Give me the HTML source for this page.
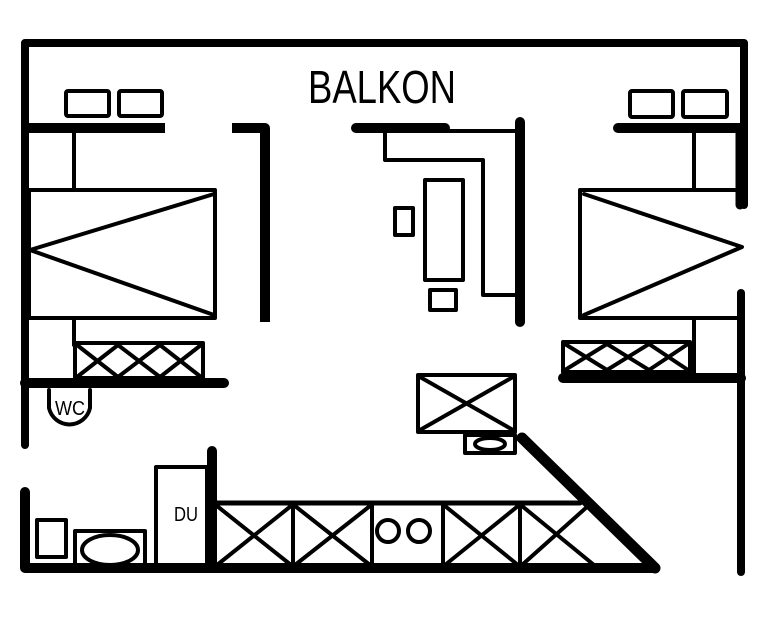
<!DOCTYPE html>
<html><head><style>html,body{margin:0;padding:0;background:#fff}</style></head><body>
<svg width="774" height="619" viewBox="0 0 774 619" xmlns="http://www.w3.org/2000/svg" style="display:block">
<g fill="none" stroke="#000" stroke-linecap="round" stroke-linejoin="round">
<!-- outer walls -->
<polyline points="25,445 25,43 744,43 744,205" stroke-width="8"/>
<line x1="741" y1="293" x2="741" y2="572" stroke-width="8"/>
<!-- left room -->
<line x1="25" y1="128" x2="165" y2="128" stroke-width="10" stroke-linecap="butt"/>
<rect x="66" y="91" width="43" height="25" rx="2" stroke-width="4"/>
<rect x="119" y="91" width="43" height="25" rx="2" stroke-width="4"/>
<line x1="74" y1="128" x2="74" y2="190" stroke-width="4"/>
<rect x="29" y="190" width="186" height="128" stroke-width="4"/>
<polyline points="214,194 30,250 214,315" stroke-width="4"/>
<line x1="74" y1="318" x2="74" y2="345" stroke-width="4"/>
<rect x="75" y="343" width="128" height="35" stroke-width="4"/>
<path d="M77,345 L118,377 M118,345 L77,377 M118,345 L160,377 M160,345 L118,377 M160,345 L201,377 M201,345 L160,377" stroke-width="4"/>
<line x1="25" y1="383" x2="224" y2="383" stroke-width="10"/>
<polyline points="232,128 265,128 265,322" stroke-width="10" stroke-linecap="butt"/>
<path d="M49,390 L49,408 A21,21 0 0 0 90,408 L90,390" stroke-width="4"/>
<!-- bathroom bottom -->
<polyline points="25,492 25,568 655,568" stroke-width="10"/>
<rect x="37" y="520" width="29" height="37" stroke-width="4"/>
<rect x="75" y="531" width="70" height="34" stroke-width="4"/>
<ellipse cx="110" cy="550" rx="28" ry="15" stroke-width="4"/>
<rect x="156" y="467" width="51" height="100" stroke-width="4"/>
<line x1="212" y1="451" x2="212" y2="568" stroke-width="10"/>
<!-- kitchen -->
<polyline points="215,503 580,503" stroke-width="5"/>
<path d="M293,503 V566 M372,503 V566 M443,503 V566 M520,503 V566" stroke-width="4"/>
<path d="M217,506 L291,565 M291,506 L217,565 M295,506 L370,565 M370,506 L295,565 M445,506 L518,565 M518,506 L445,565 M522,506 L594,565 M588,506 L522,565" stroke-width="4"/>
<circle cx="388" cy="531" r="11" stroke-width="4"/>
<circle cx="419" cy="531" r="11" stroke-width="4"/>
<line x1="522" y1="438" x2="655" y2="568" stroke-width="11"/>
<rect x="418" y="375" width="97" height="57" stroke-width="4"/>
<path d="M420,377 L513,430 M513,377 L420,430" stroke-width="4"/>
<rect x="465" y="435" width="50" height="18" stroke-width="4"/>
<ellipse cx="490" cy="444" rx="15" ry="6" stroke-width="4"/>
<!-- center -->
<line x1="356" y1="128" x2="445" y2="128" stroke-width="10"/>
<line x1="440" y1="131" x2="520" y2="131" stroke-width="4"/>
<polyline points="385,131 385,160 483,160 483,295 517,295" stroke-width="4"/>
<line x1="520" y1="122" x2="520" y2="322" stroke-width="10"/>
<rect x="425" y="180" width="38" height="100" stroke-width="4"/>
<rect x="395" y="208" width="18" height="27" stroke-width="4"/>
<rect x="430" y="290" width="26" height="20" stroke-width="4"/>
<!-- right room -->
<rect x="630" y="91" width="43" height="26" rx="2" stroke-width="4"/>
<rect x="683" y="91" width="44" height="26" rx="2" stroke-width="4"/>
<line x1="618" y1="128" x2="743" y2="128" stroke-width="10"/>
<line x1="740" y1="128" x2="740" y2="205" stroke-width="9"/>
<line x1="694" y1="128" x2="694" y2="190" stroke-width="4"/>
<polyline points="740,190 580,190 580,318 740,318" stroke-width="4"/>
<polyline points="584,194 742,247 584,315" stroke-width="4"/>
<line x1="694" y1="318" x2="694" y2="375" stroke-width="4"/>
<rect x="563" y="342" width="127" height="30" stroke-width="4"/>
<path d="M565,344 L607,370 M607,344 L565,370 M607,344 L649,370 M649,344 L607,370 M649,344 L688,370 M688,344 L649,370" stroke-width="4"/>
<line x1="563" y1="378" x2="741" y2="378" stroke-width="10"/>
</g>
<g font-family="'Liberation Sans Narrow','Liberation Sans',sans-serif" fill="#000">
<text x="308" y="103" font-size="46" textLength="148" lengthAdjust="spacingAndGlyphs">BALKON</text>
<text x="55" y="415" font-size="20" textLength="30" lengthAdjust="spacingAndGlyphs">WC</text>
<text x="174" y="521" font-size="20" textLength="24" lengthAdjust="spacingAndGlyphs">DU</text>
</g>
</svg>
</body></html>
